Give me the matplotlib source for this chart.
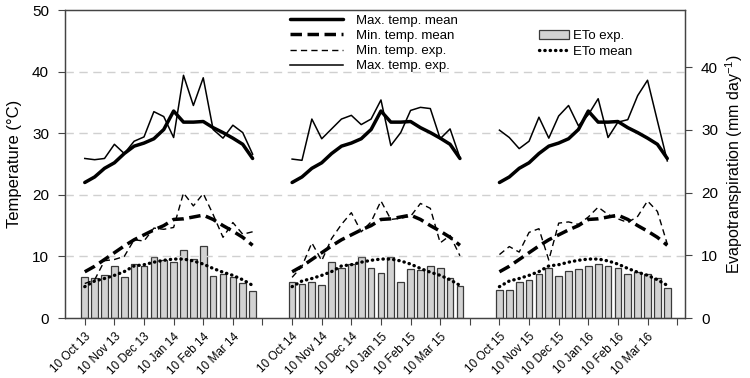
import matplotlib
matplotlib.use('Agg')
import matplotlib.pyplot as plt
import numpy as np

plt.rcParams['font.family'] = ['Liberation Sans', 'DejaVu Sans']
plt.rcParams['mathtext.fontset'] = 'custom'
plt.rcParams['mathtext.rm'] = 'Liberation Sans'

# long-term means (same curve repeated each season), 10-day steps from 10 Oct to end of March
max_mean = [22.0, 22.9, 24.3, 25.2, 26.7, 27.9, 28.4, 29.1, 30.6, 33.6, 31.8, 31.8, 31.9, 30.9, 30.1, 29.2, 28.2, 25.9]
min_mean = [7.5, 8.4, 9.5, 10.6, 11.7, 12.7, 13.5, 14.3, 15.0, 16.0, 16.1, 16.4, 16.7, 16.0, 15.0, 14.1, 13.1, 11.8]
eto_mean = [5.0, 5.9, 6.3, 6.8, 7.4, 8.3, 8.5, 8.9, 9.2, 9.4, 9.4, 9.1, 8.6, 7.9, 7.3, 6.8, 6.1, 5.2]

# experimental seasons
max_exp_13 = [25.9, 25.7, 25.9, 28.2, 26.7, 28.7, 29.4, 33.5, 32.7, 29.3, 39.4, 34.5, 39.0, 30.6, 29.2, 31.3, 30.1, 26.6]
max_exp_14 = [25.8, 25.6, 32.3, 29.1, 30.7, 32.3, 32.9, 31.4, 32.3, 35.4, 28.0, 30.1, 33.7, 34.2, 34.0, 29.1, 30.7, 26.0]
max_exp_15 = [30.5, 29.3, 27.5, 28.7, 32.6, 29.2, 32.8, 34.5, 31.2, 33.0, 35.6, 29.3, 31.8, 32.2, 36.1, 38.6, 32.0, 25.5]

min_exp_13 = [5.6, 6.2, 9.3, 9.5, 10.0, 12.7, 12.5, 14.6, 14.4, 14.7, 20.3, 18.2, 20.2, 16.8, 13.1, 15.5, 13.6, 14.0]
min_exp_14 = [6.6, 8.4, 12.2, 9.3, 12.9, 15.2, 17.1, 14.0, 15.6, 19.0, 16.0, 16.2, 16.5, 18.6, 17.8, 12.2, 13.4, 10.1]
min_exp_15 = [10.3, 11.6, 10.7, 13.9, 14.5, 9.4, 15.4, 15.6, 15.2, 16.4, 18.0, 16.8, 16.1, 15.5, 16.5, 19.0, 17.3, 12.0]

eto_13 = [6.5, 6.4, 6.85, 8.25, 6.6, 8.6, 8.35, 9.65, 9.3, 8.85, 10.9, 9.4, 11.5, 6.7, 6.95, 6.6, 5.65, 4.3]
eto_14 = [5.8, 5.35, 5.8, 5.2, 9.0, 8.0, 8.6, 9.8, 8.0, 7.2, 9.7, 5.7, 7.8, 7.65, 8.35, 8.0, 6.4, 5.1]
eto_15 = [4.4, 4.5, 5.8, 6.0, 7.0, 7.9, 6.7, 7.55, 7.8, 8.35, 8.6, 8.25, 8.0, 6.95, 7.4, 6.95, 6.3, 4.85]

months = ['Oct', 'Nov', 'Dec', 'Jan', 'Feb', 'Mar']
seasons = [(13, 14), (14, 15), (15, 16)]

max_exp = [max_exp_13, max_exp_14, max_exp_15]
min_exp = [min_exp_13, min_exp_14, min_exp_15]
eto_exp = [eto_13, eto_14, eto_15]

n = len(max_mean)
step = 21  # slots between season starts (18 periods + gap)

fig = plt.figure(figsize=(7.5, 3.78), dpi=100)
ax = fig.add_axes([0.0867, 0.1587, 0.8267, 0.8148])
ax2 = ax.twinx()
ax.set_zorder(2)
ax2.set_zorder(1)
ax.patch.set_visible(False)

k = 'black'
for s in range(3):
    x = np.arange(n) + s * step
    b = ax2.bar(x, eto_exp[s], width=0.68, color='#d2d2d2', edgecolor='#3a3a3a', linewidth=0.9)
    em, = ax2.plot(x, eto_mean, color=k, lw=2.4, linestyle=(0, (0.1, 1.5)), dash_capstyle='round')
    l1, = ax.plot(x, max_mean, color=k, lw=2.5, solid_capstyle='round')
    l2, = ax.plot(x, min_mean, color=k, lw=2.5, linestyle=(0, (3.3, 1.6)))
    l3, = ax.plot(x, min_exp[s], color=k, lw=1.0, linestyle=(0, (4.5, 3)))
    l4, = ax.plot(x, max_exp[s], color=k, lw=1.1)

ax.set_xlim(-2.0, 60.8)
ax.set_ylim(0, 50)
ax2.set_ylim(0, 49.1)

ticks = list(range(0, 61, 3))
labels = []
for y1, y2 in seasons:
    for i, m in enumerate(months):
        yr = y1 if i < 3 else y2
        labels.append('10 %s %d' % (m, yr))
    labels.append('')
ax.set_xticks(ticks)
ax.set_xticklabels(labels, rotation=45, ha='right', rotation_mode='anchor', fontsize=8.5)

ax.set_yticks(range(0, 51, 10))
ax.tick_params(axis='y', labelsize=11, length=5, pad=6.5, color='#444444')
ax.tick_params(axis='x', length=5, pad=4, color='#444444')
ax2.set_yticks(range(0, 41, 10))
ax2.tick_params(axis='y', labelsize=11, length=5, pad=6.5, color='#444444')

for a in (ax, ax2):
    for sp in a.spines.values():
        sp.set_color('#444444')
        sp.set_linewidth(0.9)

for g in [10, 20, 30, 40]:
    ax.axhline(g, color='#d0d0d0', lw=1.0, linestyle=(0, (6, 4)), zorder=0)

ax.set_ylabel('Temperature (°C)', fontsize=12, labelpad=7)
ax2.set_ylabel('Evapotranspiration (mm day$^{-1}$)', fontsize=11.5, labelpad=4)

fig.legend([l1, l2, l3, l4],
           ['Max. temp. mean', 'Min. temp. mean', 'Min. temp. exp.', 'Max. temp. exp.'],
           loc='upper left', bbox_to_anchor=(0.387, 0.961), frameon=False, fontsize=9.5,
           borderpad=0, borderaxespad=0, handlelength=4.0, handletextpad=1.0, labelspacing=0.22)
fig.legend([b, em], ['ETo exp.', 'ETo mean'],
           loc='upper left', bbox_to_anchor=(0.7187, 0.92), frameon=False, fontsize=9.5,
           borderpad=0, borderaxespad=0, handlelength=2.3, handletextpad=0.3, labelspacing=0.22)

fig.savefig('out.png', dpi=100)
